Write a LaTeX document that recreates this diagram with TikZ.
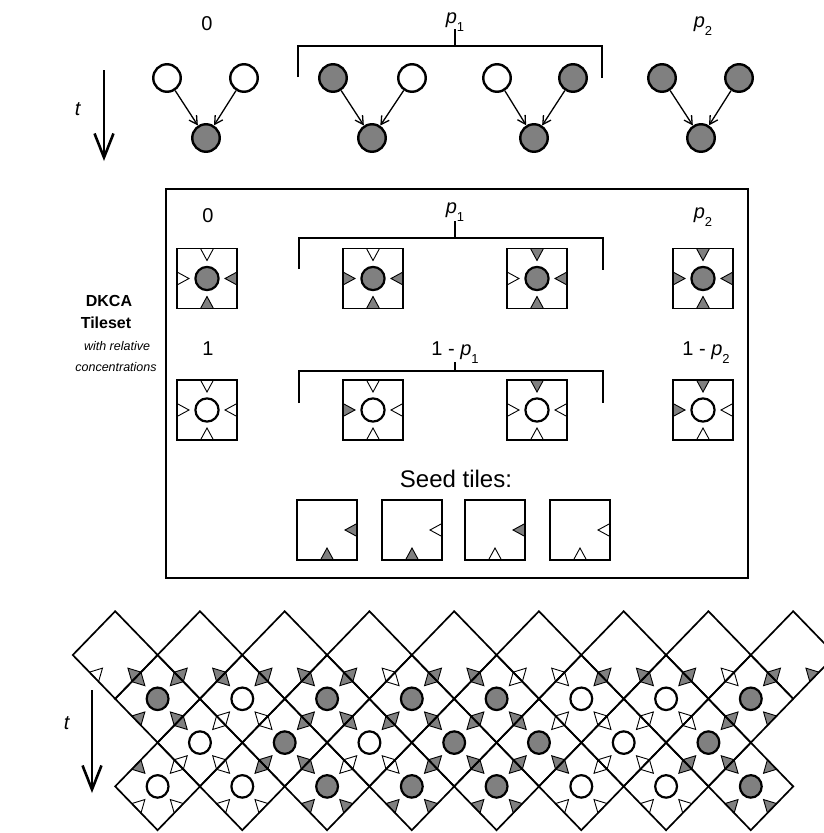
\documentclass[tikz,border=0pt]{standalone}
\usepackage{fontspec}
\setmainfont{Liberation Sans}
\usetikzlibrary{arrows.meta}
\definecolor{gg}{RGB}{128,128,128}
\definecolor{ww}{RGB}{255,255,255}
\pgfdeclarelayer{fg}
\pgfsetlayers{main,fg}
\def\noneword{none}
\def\crad{11.6}
\newcommand\dtri[2]{\def\tmpc{#1}\ifx\tmpc\noneword\else\filldraw[tri,fill=#1] #2 -- cycle;\fi}
\newcommand\dcirc[1]{\def\tmpc{#1}\ifx\tmpc\noneword\else\filldraw[cdot,fill=#1] (0,0) circle (\crad);\fi}
% #1 options, #2 circle, #3 top, #4 left, #5 right, #6 bottom
\newcommand\dtile[6]{%
\begin{scope}[#1]
\dtri{#3}{(-6.5,-30) -- (6.5,-30) -- (0,-18)}
\dtri{#4}{(-30,-6.5) -- (-30,6.5) -- (-18,0)}
\dtri{#5}{(30,-6.5) -- (30,6.5) -- (18,0)}
\dtri{#6}{(-6.5,30) -- (6.5,30) -- (0,18)}
\dcirc{#2}
\begin{pgfonlayer}{fg}\draw[edge] (-30,-30) rectangle (30,30);\end{pgfonlayer}
\end{scope}}
\newcommand\lt[7]{\dtile{shift={(#1,#2)},yscale=1.032,rotate=-45}{#3}{#4}{#5}{#6}{#7}}
\newcommand\ps[1]{\textit{p}\raisebox{-8pt}{\fontsize{13}{13}\selectfont #1}}
\begin{document}
\begin{tikzpicture}[x=1pt,y=-1pt,
  tri/.style={line width=0.9pt, line join=miter},
  cdot/.style={line width=2.2pt},
  edge/.style={line width=1.7pt, line join=miter},
  dot/.style={circle, draw, line width=2.4pt, minimum size=27.5pt, inner sep=0pt},
  on/.style={dot, fill=gg}, off/.style={dot, fill=ww},
  flow/.style={line width=1.3pt, -{Straight Barb[length=8pt,width=9pt]}},
  tarrow/.style={line width=2.6pt, -{Straight Barb[length=24pt,width=19pt]}},
  brk/.style={line width=1.8pt},
  lbl/.style={font=\fontsize{20}{24}\selectfont, inner sep=0pt, anchor=base},
  boldlbl/.style={font=\fontsize{16}{19}\selectfont\bfseries, inner sep=0pt, anchor=base},
  itlbl/.style={font=\fontsize{12.5}{15}\selectfont\itshape, inner sep=0pt, anchor=base}]
\useasboundingbox (0,0) rectangle (823,833);

% ---------- top: update rules ----------
\node[lbl] (h0) at (207,30) {0};
\node[lbl] (h1) at (455,23) {\ps{1}};
\node[lbl] (h2) at (703,27) {\ps{2}};
\draw[brk] (298,77) -- (298,46) -- (602,46) -- (602,78);
\draw[brk] (455,46) -- (455,29);

\node[off] (a1) at (167,78) {};
\node[off] (a2) at (244,78) {};
\node[on]  (a3) at (206,138) {};
\node[on]  (b1) at (333,78) {};
\node[off] (b2) at (412,78) {};
\node[on]  (b3) at (372,138) {};
\node[off] (c1) at (497,78) {};
\node[on]  (c2) at (573,78) {};
\node[on]  (c3) at (534,138) {};
\node[on]  (d1) at (662,78) {};
\node[on]  (d2) at (739,78) {};
\node[on]  (d3) at (701,138) {};
\foreach \g in {a,b,c,d}{
  \draw[flow] (\g1) -- (\g3);
  \draw[flow] (\g2) -- (\g3);
}
\coordinate (ts) at (104,70);
\coordinate (te) at (104,161);
\draw[tarrow] (ts) -- (te);
\node[lbl] (tl) at (78,115) {\textit{t}};

% ---------- tileset box ----------
\draw[edge] (166,189) rectangle (748,578);
\node[boldlbl] (k1) at (109,306) {DKCA};
\node[boldlbl] (k2) at (106,328) {Tileset};
\node[itlbl] (k3) at (117,350) {with relative};
\node[itlbl] (k4) at (116,371) {concentrations};

\node[lbl] (r0) at (208,222) {0};
\node[lbl] (r1) at (455,213) {\ps{1}};
\node[lbl] (r2) at (703,218) {\ps{2}};
\draw[brk] (299,269) -- (299,238) -- (603,238) -- (603,270);
\draw[brk] (455,238) -- (455,221);

\node[lbl] (s0) at (208,355) {1};
\node[lbl] (s1) at (455,355) {1 - \ps{1}};
\node[lbl] (s2) at (706,355) {1 - \ps{2}};
\draw[brk] (299,403) -- (299,371) -- (603,371) -- (603,403);
\draw[brk] (455,371) -- (455,362);

\dtile{shift={(207,278.5)}}{gg}{ww}{ww}{gg}{gg}
\dtile{shift={(373,278.5)}}{gg}{ww}{gg}{gg}{gg}
\dtile{shift={(537,278.5)}}{gg}{gg}{ww}{gg}{gg}
\dtile{shift={(703,278.5)}}{gg}{gg}{gg}{gg}{gg}

\dtile{shift={(207,410)}}{ww}{ww}{ww}{ww}{ww}
\dtile{shift={(373,410)}}{ww}{ww}{gg}{ww}{ww}
\dtile{shift={(537,410)}}{ww}{gg}{ww}{ww}{ww}
\dtile{shift={(703,410)}}{ww}{gg}{gg}{ww}{ww}

\node[font=\fontsize{24}{28}\selectfont, inner sep=0pt, anchor=base] (seedl) at (456,487) {Seed tiles:};
\dtile{shift={(327,530)}}{none}{none}{none}{gg}{gg}
\dtile{shift={(412,530)}}{none}{none}{none}{ww}{gg}
\dtile{shift={(495,530)}}{none}{none}{none}{gg}{ww}
\dtile{shift={(580,530)}}{none}{none}{none}{ww}{ww}

% ---------- lattice ----------
\def\crad{10.9}
% seeds: x, y, circle, top, left, right(LR), bottom(LL)
\lt{115.2}{655}{none}{none}{none}{gg}{ww}
\lt{199.95}{655}{none}{none}{none}{gg}{gg}
\lt{284.7}{655}{none}{none}{none}{gg}{gg}
\lt{369.45}{655}{none}{none}{none}{ww}{gg}
\lt{454.2}{655}{none}{none}{none}{gg}{gg}
\lt{538.95}{655}{none}{none}{none}{ww}{ww}
\lt{623.7}{655}{none}{none}{none}{gg}{gg}
\lt{708.45}{655}{none}{none}{none}{ww}{gg}
\lt{793.2}{655}{none}{none}{none}{gg}{gg}
% row 1: circle, top(UR), left(UL), right, bottom
\lt{157.6}{698.8}{gg}{gg}{gg}{gg}{gg}
\lt{242.3}{698.8}{ww}{gg}{gg}{ww}{ww}
\lt{327.1}{698.8}{gg}{gg}{gg}{gg}{gg}
\lt{411.8}{698.8}{gg}{gg}{ww}{gg}{gg}
\lt{496.6}{698.8}{gg}{ww}{gg}{gg}{gg}
\lt{581.3}{698.8}{ww}{gg}{ww}{ww}{ww}
\lt{666.1}{698.8}{ww}{gg}{gg}{ww}{ww}
\lt{750.8}{698.8}{gg}{gg}{ww}{gg}{gg}
% row 2
\lt{199.95}{742.6}{ww}{ww}{gg}{ww}{ww}
\lt{284.7}{742.6}{gg}{gg}{ww}{gg}{gg}
\lt{369.45}{742.6}{ww}{gg}{gg}{ww}{ww}
\lt{454.2}{742.6}{gg}{gg}{gg}{gg}{gg}
\lt{538.95}{742.6}{gg}{ww}{gg}{gg}{gg}
\lt{623.7}{742.6}{ww}{ww}{ww}{ww}{ww}
\lt{708.45}{742.6}{gg}{gg}{ww}{gg}{gg}
% row 3
\lt{157.6}{786.4}{ww}{ww}{gg}{ww}{ww}
\lt{242.3}{786.4}{ww}{gg}{ww}{ww}{ww}
\lt{327.1}{786.4}{gg}{ww}{gg}{gg}{gg}
\lt{411.8}{786.4}{gg}{gg}{ww}{gg}{gg}
\lt{496.6}{786.4}{gg}{gg}{gg}{gg}{gg}
\lt{581.3}{786.4}{ww}{ww}{gg}{ww}{ww}
\lt{666.1}{786.4}{ww}{gg}{ww}{ww}{ww}
\lt{750.8}{786.4}{gg}{gg}{gg}{gg}{gg}

\coordinate (us) at (92,690);
\coordinate (ue) at (92,793);
\draw[tarrow] (us) -- (ue);
\node[lbl] (ul) at (67,729) {\textit{t}};
\end{tikzpicture}
\end{document}
